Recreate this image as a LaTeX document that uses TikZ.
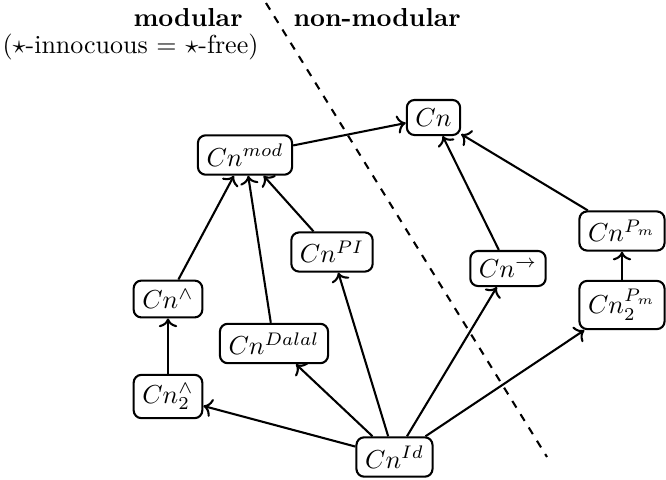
\documentclass[tikz,border=0pt]{standalone}
\usetikzlibrary{arrows.meta}
\begin{document}
\begin{tikzpicture}[x=0.3846pt,y=-0.3846pt,
  cnbox/.style={draw,thick,rounded corners=3pt,inner sep=3.33pt},
  imp/.style={->,thick},
  lbl/.style={inner sep=0pt,anchor=base west}]
\useasboundingbox (0,0) rectangle (666,480);

% region labels and the dividing line
\node[lbl] (modlbl) at (133,26) {\textbf{modular}};
\node[lbl] (innlbl) at (2,53) {($\star$-innocuous = $\star$-free)};
\node[lbl] (nonlbl) at (293,26) {\textbf{non-modular}};
\coordinate (dtop) at (266,3);
\coordinate (dbot) at (547,457);
\draw[thick,dashed] (dtop) -- (dbot);

% consequence operators
\node[cnbox] (cn)    at (433.5,117.5) {$Cn$};
\node[cnbox] (mod)   at (245,155)     {$Cn^{mod}$};
\node[cnbox] (pi)    at (332,252)     {$Cn^{PI}$};
\node[cnbox] (and)   at (168,299)     {$Cn^{\wedge}$};
\node[cnbox] (dalal) at (274,343.5)   {$Cn^{Dalal}$};
\node[cnbox] (and2)  at (168,396.5)   {$Cn_2^{\wedge}$};
\node[cnbox] (id)    at (394.5,457)   {$Cn^{Id}$};
\node[cnbox] (imp)   at (508,268.5)   {$Cn^{\rightarrow}$};
\node[cnbox] (pm)    at (622,231)     {$Cn^{P_m}$};
\node[cnbox] (pm2)   at (622,305)     {$Cn_2^{P_m}$};

% inclusions
\draw[imp] (mod) -- (cn);
\draw[imp] (and) -- (mod);
\draw[imp] (dalal) -- (mod);
\draw[imp] (pi) -- (mod);
\draw[imp] (and2) -- (and);
\draw[imp] (id) -- (and2);
\draw[imp] (id) -- (dalal);
\draw[imp] (id) -- (pi);
\draw[imp] (id) -- (imp);
\draw[imp] (id) -- (pm2);
\draw[imp] (imp) -- (cn);
\draw[imp] (pm) -- (cn);
\draw[imp] (pm2) -- (pm);
\end{tikzpicture}
\end{document}
